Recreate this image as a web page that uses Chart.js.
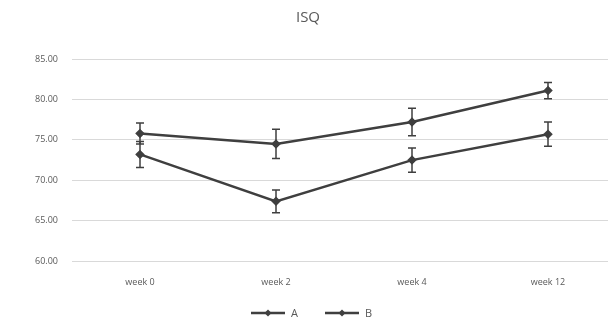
<!DOCTYPE html>
<html><head><meta charset="utf-8">
<script src="https://cdn.jsdelivr.net/npm/chart.js@4"></script>
<style>html,body{margin:0;padding:0;background:#fff;overflow:hidden}#c{display:block}</style>
</head><body><canvas id="c" width="626" height="327"></canvas>
<script>
const categories = ['week 0', 'week 2', 'week 4', 'week 12'];
const seriesA = [75.8, 74.5, 77.2, 81.1];
const errA = [1.3, 1.8, 1.7, 1.0];
const seriesB = [73.2, 67.4, 72.5, 75.7];
const errB = [1.6, 1.4, 1.5, 1.5];
const yTicks = [60, 65, 70, 75, 80, 85];

const lineColor = '#3f3f3f';
const textColor = '#595959';
const errorBars = {
  id: 'errorBars',
  afterDatasetsDraw(chart) {
    const ctx = chart.ctx, y = chart.scales.y;
    chart.data.datasets.forEach((ds, di) => {
      const meta = chart.getDatasetMeta(di);
      ds.err.forEach((e, i) => {
        const x = meta.data[i].x;
        const top = y.getPixelForValue(ds.data[i] + e);
        const bot = y.getPixelForValue(ds.data[i] - e);
        ctx.save();
        ctx.strokeStyle = lineColor; ctx.lineWidth = 1.5;
        ctx.beginPath();
        ctx.moveTo(x, top); ctx.lineTo(x, bot);
        ctx.moveTo(x - 4, top); ctx.lineTo(x + 4, top);
        ctx.moveTo(x - 4, bot); ctx.lineTo(x + 4, bot);
        ctx.stroke();
        ctx.restore();
      });
    });
  }
};
const customLegend = {
  id: 'customLegend',
  afterDraw(chart) {
    const ctx = chart.ctx;
    const yy = 313;
    const starts = [251, 325];
    ctx.save();
    ctx.font = '11px "Open Sans"';
    ctx.textBaseline = 'middle';
    chart.data.datasets.forEach((ds, i) => {
      const x0 = starts[i];
      ctx.strokeStyle = ds.borderColor; ctx.lineWidth = 2.5;
      ctx.beginPath(); ctx.moveTo(x0, yy); ctx.lineTo(x0 + 34, yy); ctx.stroke();
      ctx.fillStyle = ds.borderColor;
      ctx.beginPath();
      ctx.moveTo(x0 + 17, yy - 3.5); ctx.lineTo(x0 + 20.5, yy); ctx.lineTo(x0 + 17, yy + 3.5); ctx.lineTo(x0 + 13.5, yy);
      ctx.closePath(); ctx.fill();
      ctx.fillStyle = textColor;
      ctx.fillText(ds.label, x0 + 40, yy + 0.5);
    });
    ctx.restore();
  }
};

new Chart(document.getElementById('c'), {
  type: 'line',
  data: {
    labels: categories,
    datasets: [
      { label: 'A', data: seriesA, err: errA, borderColor: lineColor, backgroundColor: lineColor, borderWidth: 2.5, pointStyle: 'rectRot', pointRadius: 3, tension: 0 },
      { label: 'B', data: seriesB, err: errB, borderColor: lineColor, backgroundColor: lineColor, borderWidth: 2.5, pointStyle: 'rectRot', pointRadius: 3, tension: 0 }
    ]
  },
  options: {
    responsive: false, animation: false, devicePixelRatio: 1,
    layout: { padding: { left: 0, right: 10, top: 6, bottom: 31 } },
    plugins: {
      title: { display: true, text: 'ISQ', color: textColor, font: { family: 'Open Sans', size: 15, weight: 'normal' }, padding: { top: 3, bottom: 32 } },
      legend: { display: false },
      tooltip: { enabled: false }
    },
    scales: {
      x: { offset: true, grid: { display: false }, border: { display: false },
           ticks: { color: textColor, font: { family: 'Open Sans', size: 9 }, padding: 8 } },
      y: { min: 60, max: 85, afterBuildTicks: s => { s.ticks = yTicks.map(v => ({ value: v })); },
           afterFit: s => { s.width = 72; },
           grid: { color: '#d9d9d9', lineWidth: 1, drawTicks: false }, border: { display: false },
           ticks: { color: textColor, font: { family: 'Open Sans', size: 9 }, padding: 14, callback: v => v.toFixed(2) } }
    }
  },
  plugins: [errorBars, customLegend]
});
</script></body></html>
